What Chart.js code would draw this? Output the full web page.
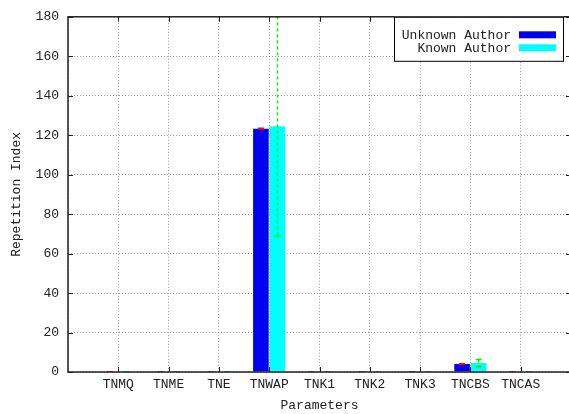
<!DOCTYPE html>
<html>
<head>
<meta charset="utf-8">
<script src="https://cdn.jsdelivr.net/npm/chart.js@4.4.1/dist/chart.umd.min.js"></script>
<style>
  html, body { margin: 0; padding: 0; background: #fff; }
  #wrap { width: 569px; height: 414px; overflow: hidden; }
</style>
</head>
<body>
<div id="wrap"><canvas id="myChart" width="576" height="414"></canvas></div>
<script>
(() => {
  'use strict'

  // parameters on the x axis (blank slots at both ends keep the gnuplot spacing)
  const categories = ['', 'TNMQ', 'TNME', 'TNE', 'TNWAP', 'TNK1', 'TNK2', 'TNK3', 'TNCBS', 'TNCAS', '']
  const unknownAuthor = [null, 0, 0, 0, 123.3, 0, 0, 0, 4, 0, null]
  const knownAuthor = [null, 0, 0, 0, 124.5, 0, 0, 0, 4.5, 0, null]
  // +/- error for each bar
  const unknownErr = [null, 0, 0, 0, 0.2, 0, 0, 0, 0.2, 0, null]
  const knownErr = [null, 0, 0, 0, 55.7, 0, 0, 0, 1.8, 0, null]
  const yTicks = [0, 20, 40, 60, 80, 100, 120, 140, 160, 180]

  const mono = '"Liberation Mono", "DejaVu Sans Mono", monospace'
  const textColor = '#222'

  // error bars drawn on top of the bars, through the y scale
  const errorBars = {
    id: 'errorBars',
    afterDatasetsDraw(chart) {
      const ctx = chart.ctx
      const y = chart.scales.y
      const area = chart.chartArea
      const errs = [unknownErr, knownErr]
      const colors = ['#ff0000', '#00ee00']
      const dashes = [[], [3, 3]]
      ctx.save()
      ctx.beginPath()
      ctx.rect(area.left, area.top, area.right - area.left, area.bottom - area.top)
      ctx.clip()
      chart.data.datasets.forEach((ds, d) => {
        const meta = chart.getDatasetMeta(d)
        ds.data.forEach((v, i) => {
          if (v === null) return
          const bar = meta.data[i]
          const hi = y.getPixelForValue(v + errs[d][i])
          const lo = y.getPixelForValue(v - errs[d][i])
          ctx.strokeStyle = colors[d]
          ctx.lineWidth = 1.5
          ctx.setLineDash(dashes[d])
          ctx.beginPath()
          ctx.moveTo(bar.x, hi)
          ctx.lineTo(bar.x, lo)
          ctx.stroke()
          ctx.setLineDash([])
          ctx.beginPath()
          ctx.moveTo(bar.x - 3, hi)
          ctx.lineTo(bar.x + 3, hi)
          ctx.moveTo(bar.x - 3, lo)
          ctx.lineTo(bar.x + 3, lo)
          ctx.stroke()
        })
      })
      ctx.restore()
    }
  }

  // gnuplot style frame with inward ticks, and the key (text first, sample on the right)
  const frameAndKey = {
    id: 'frameAndKey',
    afterDraw(chart) {
      const ctx = chart.ctx
      const a = chart.chartArea
      const xs = chart.scales.x
      const ys = chart.scales.y
      ctx.save()
      ctx.strokeStyle = '#222'
      ctx.lineWidth = 1.5
      ctx.strokeRect(a.left, a.top, a.right - a.left, a.bottom - a.top)

      ctx.lineWidth = 1
      ctx.beginPath()
      categories.forEach((c, i) => {
        if (!c) return
        const px = Math.round(xs.getPixelForValue(i)) + 0.5
        ctx.moveTo(px, a.bottom); ctx.lineTo(px, a.bottom - 5)
        ctx.moveTo(px, a.top); ctx.lineTo(px, a.top + 5)
      })
      yTicks.forEach(v => {
        const py = Math.round(ys.getPixelForValue(v)) + 0.5
        ctx.moveTo(a.left, py); ctx.lineTo(a.left + 5, py)
        ctx.moveTo(a.right, py); ctx.lineTo(a.right - 5, py)
      })
      ctx.stroke()

      const boxLeft = a.right - 177
      const boxRight = a.right - 7
      ctx.fillStyle = '#fff'
      ctx.fillRect(boxLeft, a.top, boxRight - boxLeft, 44)
      ctx.strokeStyle = '#000'
      ctx.strokeRect(boxLeft + 0.5, a.top + 0.5, boxRight - boxLeft - 1, 44)

      ctx.font = '13px ' + mono
      ctx.textAlign = 'right'
      ctx.textBaseline = 'middle'
      chart.data.datasets.forEach((ds, d) => {
        const cy = a.top + 18.5 + d * 13
        ctx.fillStyle = textColor
        ctx.fillText(ds.label, a.right - 60, cy)
        ctx.fillStyle = ds.backgroundColor
        ctx.fillRect(a.right - 52, cy - 4, 37, 7)
      })
      ctx.restore()
    }
  }

  const ctx = document.getElementById('myChart')
  // eslint-disable-next-line no-unused-vars
  const myChart = new Chart(ctx, {
    type: 'bar',
    data: {
      labels: categories,
      datasets: [{
        label: 'Unknown Author',
        data: unknownAuthor,
        backgroundColor: '#0000f0',
        borderWidth: 0,
        categoryPercentage: 0.66,
        barPercentage: 0.94
      }, {
        label: 'Known Author',
        data: knownAuthor,
        backgroundColor: '#00ffff',
        borderWidth: 0,
        categoryPercentage: 0.66,
        barPercentage: 0.94
      }]
    },
    options: {
      responsive: false,
      animation: false,
      layout: { padding: { top: 16, right: 1, left: 0, bottom: 0 } },
      plugins: {
        legend: { display: false },
        tooltip: { enabled: false }
      },
      scales: {
        x: {
          offset: false,
          grid: { offset: false, color: '#999', drawTicks: false },
          border: { display: false, dash: [1, 2] },
          ticks: {
            autoSkip: false,
            maxRotation: 0,
            padding: 5,
            color: textColor,
            font: { family: mono, size: 13 }
          },
          title: {
            display: true,
            text: 'Parameters',
            color: textColor,
            font: { family: mono, size: 13 },
            padding: { top: 0, bottom: 1 }
          },
          afterFit(scale) { scale.height = 42 }
        },
        y: {
          min: 0,
          max: 180,
          afterBuildTicks(scale) { scale.ticks = yTicks.map(v => ({ value: v })) },
          grid: { color: '#999', drawTicks: false },
          border: { display: false, dash: [1, 2] },
          ticks: {
            padding: 9,
            color: textColor,
            font: { family: mono, size: 13 }
          },
          title: {
            display: true,
            text: 'Repetition Index',
            color: textColor,
            font: { family: mono, size: 13 },
            padding: { top: 9, bottom: 0 }
          },
          afterFit(scale) { scale.width = 68 }
        }
      }
    },
    plugins: [errorBars, frameAndKey]
  })
})()
</script>
</body>
</html>
